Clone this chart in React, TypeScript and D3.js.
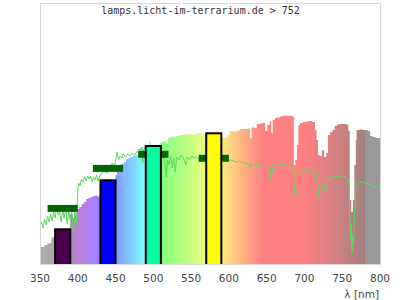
import React from "react";
import * as d3 from "d3";

const titleText = "lamps.licht-im-terrarium.de > 752";
const xTicks = [350, 400, 450, 500, 550, 600, 650, 700, 750, 800];
const xLabel = "λ [nm]";

// solar reference spectrum, relative units: [wavelength nm, value] (step after)
const solarSpectrum: [number, number][] = [
  [350, 17.3], [353, 17], [356, 19], [360, 20.5], [363, 21], [365, 26.5], [368, 28], [370, 32],
  [390, 50], [393, 46], [395, 52], [397, 48], [399, 55], [402, 57], [405, 60], [408, 62],
  [411, 65], [414, 66], [417, 67], [420, 68], [423, 68.5], [426, 67], [428, 69], [430, 78],
  [450, 89], [452, 94], [455, 98], [458, 100], [461, 102], [464, 105], [467, 106], [470, 107],
  [473, 108], [476, 109], [479, 112], [482, 114], [484, 116], [486, 114], [488, 118], [490, 117],
  [495, 122.3], [497, 118], [500, 118], [505, 118.5], [508, 121], [511, 122], [514, 123], [517, 121],
  [519, 126], [522, 127], [526, 127.5], [530, 128], [535, 129], [540, 129.5], [545, 130], [550, 129.5],
  [555, 130.5], [560, 131], [565, 130], [570, 130], [582, 133.5], [586, 129], [589, 126], [591, 127],
  [595, 126.5], [598, 129], [601, 133], [606, 132.5], [610, 133.5], [615, 135], [620, 135], [625, 135.5],
  [628, 126], [630, 136.5], [634, 136], [637, 140], [641, 140.5], [645, 141], [648, 133], [651, 139],
  [654, 143], [656, 131], [658, 144], [661, 146], [664, 146.5], [668, 147.7], [672, 148.2], [676, 148.3],
  [680, 148.2], [684, 147.5], [686, 99], [688, 104], [690, 119], [692, 139], [694, 141], [698, 142],
  [702, 142.5], [706, 143], [710, 142], [714, 134], [716, 124], [718, 109], [720, 108], [723, 114],
  [726, 107], [729, 111], [731, 129], [734, 132], [737, 134], [740, 138], [743, 139.5], [747, 140],
  [751, 140], [755, 139.5], [758, 133], [760, 64], [762, 52], [764, 64], [766, 99], [768, 124],
  [769, 134], [773, 134.5], [777, 134], [780, 134], [784, 133], [787, 128], [790, 127], [794, 126],
  [800, 126],
];

// lamp spectrum (green line): [wavelength nm, value]
const lampSpectrum: [number, number][] = [
  [350, 37], [352, 42], [354, 36], [356, 45], [358, 39], [360, 48], [362, 42], [364, 50], [366, 43],
  [368, 52], [370, 46], [372, 56], [374, 49], [376, 52], [378, 42], [380, 54], [382, 46], [384, 56],
  [386, 40], [388, 52], [390, 44], [392, 54], [394, 32], [396, 50], [398, 39], [400, 74], [401, 81],
  [403, 78], [405, 85], [407, 82], [409, 87], [411, 83], [413, 88], [415, 85], [417, 88], [419, 82],
  [421, 87], [423, 84], [425, 89], [427, 83], [429, 88], [431, 90], [435, 93], [439, 91], [443, 98],
  [446, 101], [448, 97], [450, 103], [452, 112], [454, 104], [456, 108], [458, 106], [460, 110],
  [463, 107], [466, 110], [469, 108], [472, 111], [475, 109], [478, 112], [481, 115], [483, 114],
  [485, 117], [486, 101], [487, 114], [489, 116], [495, 114], [505, 112], [509, 109], [511, 106],
  [513, 108], [515, 104], [517, 87], [519, 104], [521, 99], [523, 108], [525, 96], [527, 106],
  [529, 92], [531, 107], [534, 104], [537, 109], [540, 106], [543, 99], [545, 107], [548, 104],
  [551, 108], [554, 106], [557, 107], [560, 105], [563, 108], [566, 106], [590, 104], [594, 104],
  [598, 103], [602, 104], [606, 103], [610, 102], [614, 103], [618, 101], [622, 101], [626, 100],
  [628, 97], [630, 101], [634, 99], [638, 100], [641, 97], [644, 99], [648, 98], [651, 96], [654, 98],
  [656, 83], [658, 98], [662, 99], [666, 100], [670, 100], [674, 99], [678, 99], [682, 98], [685, 97],
  [686, 79], [687, 69], [688, 87], [690, 92], [693, 90], [696, 93], [700, 92], [704, 94], [708, 93],
  [712, 92], [716, 91], [718, 66], [719, 76], [721, 79], [723, 75], [725, 78], [727, 72], [729, 77],
  [731, 85], [734, 86], [738, 87], [742, 87.5], [746, 87], [750, 87], [754, 87], [757, 85], [759, 79],
  [760, 49], [761, 24], [762, 39], [763, 11], [764, 29], [765, 19], [766, 44], [767, 59], [768, 74],
  [769, 82], [772, 82], [776, 82], [780, 81], [784, 80], [788, 79], [792, 77], [796, 77], [800, 78],
];

// LED channels
const bandCenters = [380, 440, 500, 580];
const bandValues = [34.7, 83.7, 118, 130.7];
const bandColors = ["#4b004f", "#0000ff", "#00ffa0", "#ffff00"];
const markerValues = [55.6, 95.6, 109.7, 105.7];

const W = 400;
const H = 300;
const left = 40;
const right = 380;
const top = 3;
const bottom = 264;

function wlColor(l: number): string {
  if (l < 370) return "#aea8b0";
  if (l >= 780) return "#999999";
  let r = 0, g = 0, b = 0;
  if (l < 440) { r = -(l - 440) / 60; g = 0; b = 1; }
  else if (l < 490) { r = 0; g = (l - 440) / 50; b = 1; }
  else if (l < 510) { r = 0; g = 1; b = -(l - 510) / 20; }
  else if (l < 580) { r = (l - 510) / 70; g = 1; b = 0; }
  else if (l < 645) { r = 1; g = -(l - 645) / 65; b = 0; }
  else { r = 1; g = 0; b = 0; }
  let f = 1;
  if (l < 420) f = 0.3 + (0.7 * (l - 380)) / 40;
  else if (l > 700) f = 0.3 + (0.7 * (780 - l)) / 80;
  f = Math.max(0.3, Math.min(1, f));
  const c = (v: number) => Math.round(255 * (0.5 + 0.5 * v * f));
  return d3.rgb(c(r), c(g), c(b)).formatHex();
}

export default function App() {
  const x = d3.scaleLinear().domain([350, 800]).range([left, right]);
  const y = d3.scaleLinear().domain([0, 261]).range([bottom, top]);

  const area = d3
    .area<[number, number]>()
    .x((d) => x(d[0]))
    .y0(bottom)
    .y1((d) => y(d[1]))
    .curve(d3.curveStepAfter);

  const line = d3
    .line<[number, number]>()
    .x((d) => x(d[0]))
    .y((d) => y(d[1]));

  const stops: { off: number; col: string }[] = [];
  for (let l = 350; l <= 800; l += 2) {
    if (l === 370) stops.push({ off: (l - 350) / 450, col: wlColor(369) });
    if (l === 780) stops.push({ off: (l - 350) / 450, col: wlColor(779.9) });
    stops.push({ off: (l - 350) / 450, col: wlColor(l) });
  }

  return (
    <svg
      width={W}
      height={H}
      style={{ position: "absolute", left: 0, top: 0, background: "#fff" }}
    >
      <defs>
        <linearGradient id="wl" gradientUnits="userSpaceOnUse" x1={x(350)} x2={x(800)} y1={0} y2={0}>
          {stops.map((s, i) => (
            <stop key={i} offset={s.off} stopColor={s.col} />
          ))}
        </linearGradient>
        <clipPath id="plot">
          <rect x={left} y={top} width={right - left} height={bottom - top} />
        </clipPath>
      </defs>

      <g clipPath="url(#plot)">
        <path d={area(solarSpectrum) || ""} fill="url(#wl)" />
        <path
          d={line(lampSpectrum) || ""}
          fill="none"
          stroke="#5cd85c"
          strokeWidth={1}
        />
        {bandCenters.map((c, i) => (
          <rect
            key={"m" + i}
            x={x(c - 20)}
            y={y(markerValues[i]) - 3.5}
            width={x(c + 20) - x(c - 20)}
            height={7}
            fill="#006400"
          />
        ))}
        {bandCenters.map((c, i) => (
          <rect
            key={"b" + i}
            x={x(c - 10)}
            y={y(bandValues[i])}
            width={x(c + 10) - x(c - 10)}
            height={bottom - y(bandValues[i]) + 2}
            fill={bandColors[i]}
            stroke="#000"
            strokeWidth={2}
          />
        ))}
      </g>

      <rect
        x={left + 0.5}
        y={top + 0.5}
        width={right - left}
        height={bottom - top}
        fill="none"
        stroke="#d8d8d8"
        strokeWidth={1}
      />

      <text
        x={200.5}
        y={14}
        textAnchor="middle"
        fontFamily="'DejaVu Sans Mono', monospace"
        fontSize={10}
        fill="#333"
      >
        {titleText}
      </text>

      {xTicks.map((t) => (
        <text
          key={t}
          x={x(t)}
          y={281.5}
          textAnchor="middle"
          fontFamily="'DejaVu Sans', sans-serif"
          fontSize={10.5}
          fill="#444"
        >
          {t}
        </text>
      ))}
      <text
        x={379}
        y={298}
        textAnchor="end"
        fontFamily="'DejaVu Sans', sans-serif"
        fontSize={10.5}
        fill="#444"
      >
        {xLabel}
      </text>
    </svg>
  );
}
